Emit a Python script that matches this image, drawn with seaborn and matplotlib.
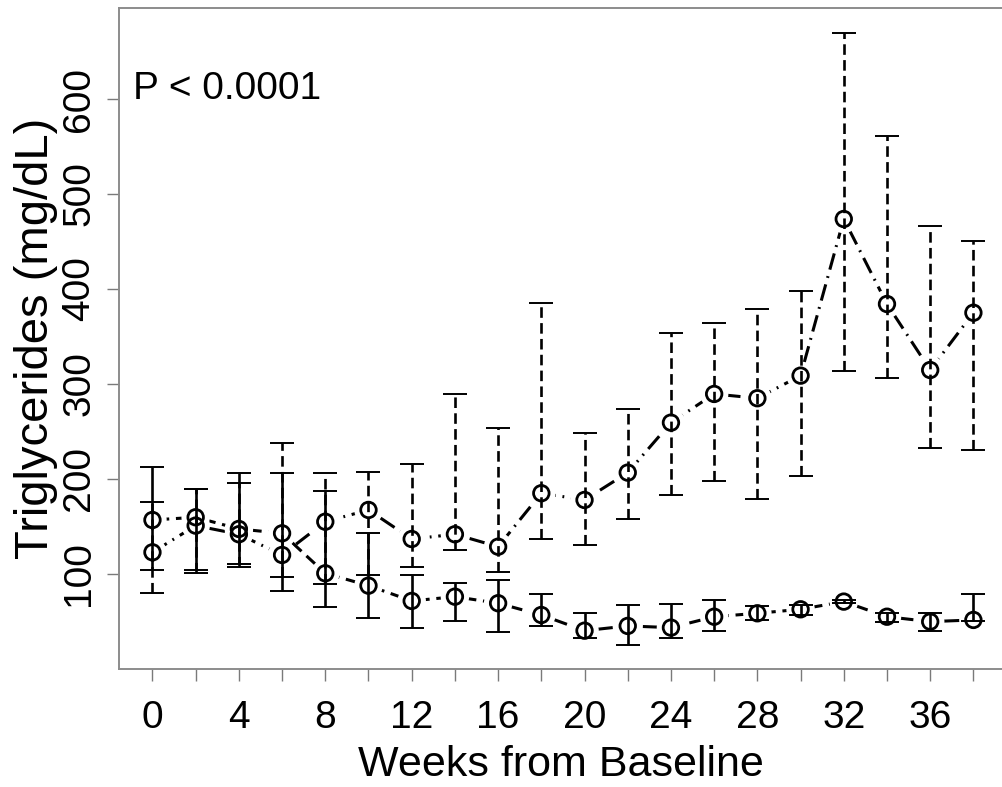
import numpy as np
import matplotlib
matplotlib.use("Agg")
import matplotlib.pyplot as plt
import pandas as pd
import seaborn as sns

# weeks from baseline
weeks = [0, 2, 4, 6, 8, 10, 12, 14, 16, 18, 20, 22, 24, 26, 28, 30, 32, 34, 36, 38]

# rising group (dash-dot line, dashed error bars)
a_mean = [122.8, 150.9, 141.8, 120.0, 155.0, 167.4, 136.8, 141.8, 128.7, 185.0,
          177.9, 206.7, 259.3, 289.5, 285.0, 308.8, 473.7, 384.2, 314.7, 375.0]
a_low = [79.7, 101.4, 107.7, 97.2, 89.5, 98.9, 107.7, 125.3, 102.5, 136.5,
         130.5, 157.9, 183.2, 197.9, 178.9, 203.2, 314.0, 306.6, 233.0, 230.5]
a_high = [176.1, 189.5, 195.5, 237.6, 206.0, 207.7, 215.5, 289.5, 254.0, 385.0,
          248.8, 273.7, 353.3, 363.9, 378.6, 397.9, 669.8, 561.0, 466.6, 450.9]

# low group (dashed line, solid error bars)
b_mean = [156.8, 159.7, 147.4, 142.8, 100.7, 87.7, 71.6, 76.1, 69.2, 56.8,
          40.3, 45.3, 43.5, 55.0, 58.6, 62.8, 70.9, 55.0, 49.8, 51.6]
b_low = [104.2, 104.0, 110.2, 82.5, 65.0, 54.0, 43.5, 50.9, 39.3, 45.6,
         32.6, 25.3, 33.0, 40.3, 51.6, 56.5, 69.2, 49.8, 40.3, 50.0]
b_high = [212.3, 189.0, 206.0, 206.0, 187.4, 142.8, 98.9, 90.2, 93.7, 79.3,
          58.6, 67.4, 68.1, 72.6, 66.3, 67.0, 72.6, 59.3, 59.3, 78.6]

xtick_labels = ["0", "", "4", "", "8", "", "12", "", "16", "", "20", "", "24", "",
                "28", "", "32", "", "36", ""]
yticks = [100, 200, 300, 400, 500, 600]

df = pd.DataFrame({"week": weeks * 2,
                   "tg": a_mean + b_mean,
                   "low": a_low + b_low,
                   "high": a_high + b_high,
                   "grp": ["A"] * len(weeks) + ["B"] * len(weeks)})

sns.set_theme(style="white")
plt.rcParams['font.family'] = ['Liberation Sans', 'DejaVu Sans']

fig = plt.figure(figsize=(10.03, 7.87), dpi=100)
ax = fig.add_axes([0.1184, 0.15, 0.8816, 0.8398])

line_dash = {"A": (5.5, 2.2, 0.6, 2.2), "B": (5.5, 2.2)}
bar_ls = {"A": (0, (4, 2)), "B": "-"}

for g in ["A", "B"]:
    d = df[df.grp == g]
    # connecting line
    sns.lineplot(data=d, x="week", y="tg", ax=ax, color="black", lw=2.2,
                 dashes=False, zorder=1, legend=False)
    ax.lines[-1].set_dashes(line_dash[g])
    # white halo so the line stops short of each circle
    sns.scatterplot(data=d, x="week", y="tg", ax=ax, s=420, color="white",
                    edgecolor="none", zorder=2, legend=False)
    # error bars
    eb = ax.errorbar(d.week, d.tg, yerr=[d.tg - d.low, d.high - d.tg], fmt="none",
                     ecolor="black", elinewidth=1.9, capsize=8.5, capthick=1.4,
                     zorder=3)
    eb[2][0].set_linestyle(bar_ls[g])

for g in ["A", "B"]:
    d = df[df.grp == g]
    sns.scatterplot(data=d, x="week", y="tg", ax=ax, s=125, marker="o",
                    facecolor="none", edgecolor="black", linewidth=2.0,
                    zorder=4, legend=False)

ax.set_xlim(-1.56, 39.37)
ax.set_ylim(0, 695.8)
ax.set_xticks(weeks)
ax.set_xticklabels(xtick_labels)
ax.set_yticks(yticks)
ax.set_yticklabels([str(v) for v in yticks], rotation=90, va="center")

ax.tick_params(axis="both", which="major", direction="out", length=8.5, width=1,
               color="#7a7a7a", labelsize=28, labelcolor="black",
               bottom=True, left=True)
ax.tick_params(axis="x", pad=14)
ax.tick_params(axis="y", pad=7)
for s in ["left", "bottom", "top"]:
    ax.spines[s].set_color("#8c8c8c")
    ax.spines[s].set_linewidth(1.4)
ax.spines["right"].set_visible(False)

ax.set_xlabel("Weeks from Baseline", fontsize=31, labelpad=6, color="black")
ax.set_ylabel("Triglycerides (mg/dL)", fontsize=34, labelpad=2, color="black")
ax.text(0.0162, 0.8616, "P < 0.0001", transform=ax.transAxes, fontsize=28,
        va="baseline", ha="left", color="black")

fig.savefig("out.png", dpi=100)
